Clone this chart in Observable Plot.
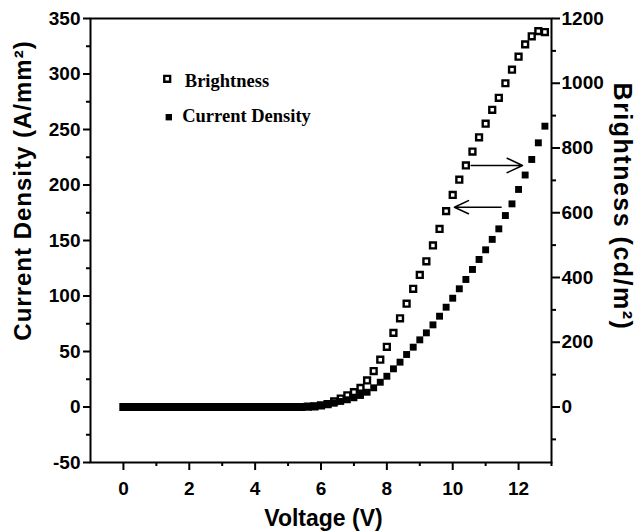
<!DOCTYPE html>
<html>
<head>
<meta charset="utf-8">
<script src="https://cdn.jsdelivr.net/npm/d3@7"></script>
<script src="https://cdn.jsdelivr.net/npm/@observablehq/plot@0.6"></script>
<style>
  body { margin: 0; background: #fff; }
  #chart svg { display: block; }
</style>
</head>
<body>
<div id="chart"></div>
<script>
// Voltage (V)
const voltage = [0,0.2,0.4,0.6,0.8,1.0,1.2,1.4,1.6,1.8,2.0,2.2,2.4,2.6,2.8,3.0,3.2,3.4,3.6,3.8,
  4.0,4.2,4.4,4.6,4.8,5.0,5.2,5.4,5.6,5.8,6.0,6.2,6.4,6.6,6.8,7.0,7.2,7.4,7.6,7.8,
  8.0,8.2,8.4,8.6,8.8,9.0,9.2,9.4,9.6,9.8,10.0,10.2,10.4,10.6,10.8,11.0,11.2,11.4,11.6,11.8,
  12.0,12.2,12.4,12.6,12.8];
// Current density (A/mm^2), left axis
const currentDensity = [0,0,0,0,0,0,0,0,0,0,0,0,0,0,0,0,0,0,0,0,
  0,0,0,0,0,0,0,0,0.4,0.8,1.4,2.3,3.4,5,6.5,8.3,10.4,13.3,17.3,22.3,
  27.7,34.4,40.4,47.3,53.9,60.5,66.8,74,81.8,89.9,98,106.5,114.9,123.9,132.9,141.6,151,160.5,172.5,183,
  196,209,223,238,253];
// Brightness (cd/m^2), right axis
const brightness = [0,0,0,0,0,0,0,0,0,0,0,0,0,0,0,0,0,0,0,0,
  0,0,0,0,0,0,0,0,1,2,5,9,17,26,36,46,59,82,111,146,
  186,229,274,319,365,408,450,499,550,605,655,702,746,789,833,875,918,955,1000,1042,
  1082,1120,1145,1161,1158];

const xTicks = [0,2,4,6,8,10,12];
const xMinor = [1,3,5,7,9,11,13];
const leftTicks = [-50,0,50,100,150,200,250,300,350];
const leftMinor = [-25,25,75,125,175,225,275,325];
const rightTicks = [0,200,400,600,800,1000,1200];
const rightMinor = [-100,100,300,500,700,900,1100];
const ratio = 350 / 1200; // right axis units -> left axis units

// annotation arrows (voltage, current-density units)
const arrowX1 = [10.56, 11.47];
const arrowX2 = [12.12, 10.05];
const arrowY = [217.6, 180];

const legendLabels = ["Brightness", "Current Density"];
const titles = ["Current Density (A/mm²)", "Brightness (cd/m²)", "Voltage (V)"];

const curData = voltage.map((v, i) => ({v, j: currentDensity[i]}));
const briData = voltage.map((v, i) => ({v, b: brightness[i] * ratio}));
const arrows = arrowX1.map((x1, i) => ({x1, x2: arrowX2[i], y: arrowY[i]}));

const sans = "'Liberation Sans', Arial, Helvetica, sans-serif";
const serif = "'Liberation Serif', 'Times New Roman', serif";

const chart = Plot.plot({
  width: 637,
  height: 531,
  marginLeft: 90,
  marginRight: 86,
  marginTop: 18,
  marginBottom: 69,
  style: {fontFamily: sans, fontSize: "19px", fontWeight: "bold", color: "black", background: "white"},
  x: {domain: [-1, 13], axis: null},
  y: {domain: [-50, 350], axis: null},
  marks: [
    Plot.frame({stroke: "black", strokeWidth: 2}),
    Plot.axisX({ticks: xTicks, tickSize: 8, tickPadding: 11, tickFormat: d => String(d), strokeWidth: 2, fontSize: 19}),
    Plot.axisX({ticks: xMinor, tickSize: 4, text: null, strokeWidth: 2}),
    Plot.axisY({ticks: leftTicks, tickSize: 7, tickPadding: 3, tickFormat: d => String(d), strokeWidth: 2, fontSize: 19}),
    Plot.axisY({ticks: leftMinor, tickSize: 4, text: null, strokeWidth: 2}),
    Plot.axisY({anchor: "right", ticks: rightTicks.map(d => d * ratio), tickSize: 8, tickPadding: 2,
      tickFormat: d => String(Math.round(d / ratio)), strokeWidth: 2, fontSize: 19}),
    Plot.axisY({anchor: "right", ticks: rightMinor.map(d => d * ratio), tickSize: 4, text: null, strokeWidth: 2}),
    Plot.dot(briData, {x: "v", y: "b", symbol: "square", r: 3.3, stroke: "black", strokeWidth: 2.4, fill: "white"}),
    Plot.dot(curData, {x: "v", y: "j", symbol: "square", r: 3.9, fill: "black", stroke: "none"}),
    Plot.arrow(arrows, {x1: "x1", x2: "x2", y1: "y", y2: "y", stroke: "black", strokeWidth: 1.5, headLength: 17, headAngle: 50}),
    // legend
    Plot.dot([legendLabels[0]], {frameAnchor: "top-left", dx: 76.7, dy: 60.3, symbol: "square", r: 3.3, stroke: "black", strokeWidth: 2.4, fill: "white"}),
    Plot.dot([legendLabels[1]], {frameAnchor: "top-left", dx: 78.3, dy: 98.7, symbol: "square", r: 3.6, fill: "black"}),
    Plot.text([legendLabels[0]], {frameAnchor: "top-left", dx: 94.3, dy: 68.7, text: d => d, textAnchor: "start", lineAnchor: "bottom", fontFamily: serif, fontSize: 18.5, fontWeight: "bold", fill: "black"}),
    Plot.text([legendLabels[1]], {frameAnchor: "top-left", dx: 91.7, dy: 103.7, text: d => d, textAnchor: "start", lineAnchor: "bottom", fontFamily: serif, fontSize: 18.5, fontWeight: "bold", fill: "black"}),
    // axis titles
    Plot.text([titles[0]], {frameAnchor: "left", dx: -67, dy: -50, rotate: -90, text: d => d, textAnchor: "middle", lineAnchor: "middle", fontSize: 24, fontWeight: "bold", fill: "black"}),
    Plot.text([titles[1]], {frameAnchor: "right", dx: 70, dy: -34, rotate: 90, text: d => d, textAnchor: "middle", lineAnchor: "middle", fontSize: 25, fontWeight: "bold", fill: "black"}),
    Plot.text([titles[2]], {frameAnchor: "bottom", dx: 2.5, dy: 56, text: d => d, textAnchor: "middle", lineAnchor: "middle", fontSize: 23, fontWeight: "bold", fill: "black"})
  ]
});
// slight letter spacing on the rotated axis titles, as in the reference
d3.select(chart).selectAll("text").filter(function() {
  return this.textContent === titles[0];
}).style("letter-spacing", "1px");
d3.select(chart).selectAll("text").filter(function() {
  return this.textContent === titles[1];
}).style("letter-spacing", "1.5px");
document.getElementById("chart").appendChild(chart);
</script>
</body>
</html>
